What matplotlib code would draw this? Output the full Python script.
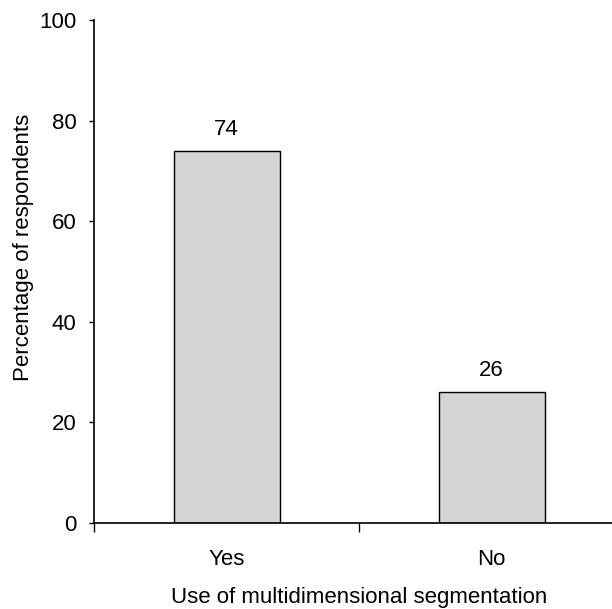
import matplotlib
matplotlib.use("Agg")
import matplotlib.pyplot as plt

plt.rcParams['font.family'] = ['Liberation Sans', 'DejaVu Sans']

categories = ["Yes", "No"]
percentages = [74, 26]
y_ticks = [0, 20, 40, 60, 80, 100]

fig = plt.figure(figsize=(6.12, 6.09), dpi=100)
# axes runs a little past the right edge of the figure
ax = fig.add_axes([94 / 612, 86 / 609, 530 / 612, 503 / 609])

x = list(range(len(categories)))
ax.bar(x, percentages, width=0.4, color="#d4d4d4", edgecolor="black", linewidth=1.0)

for xi, v in zip(x, percentages):
    ax.annotate(str(v), (xi, v), xytext=(0, 8), textcoords="offset points",
                ha="center", va="bottom", fontsize=16)

ax.set_xlim(-0.5, 1.5)
ax.set_ylim(0, 100)
ax.set_yticks(y_ticks)
ax.tick_params(axis="y", length=3.6, width=1.0, pad=9, labelsize=16)

# boundary ticks on the x axis, category names sit between them
ax.set_xticks([-0.5, 0.5, 1.5])
ax.set_xticklabels([])
ax.tick_params(axis="x", which="major", length=6.5, width=1.0)
ax.set_xticks(x, minor=True)
ax.set_xticklabels(categories, minor=True)
ax.tick_params(axis="x", which="minor", length=0, pad=19, labelsize=16)

ax.set_xlabel("Use of multidimensional segmentation", fontsize=16, labelpad=12)
ax.set_ylabel("Percentage of respondents", fontsize=16)
ax.yaxis.set_label_coords(-0.113, 0.547)

for side in ["top", "right"]:
    ax.spines[side].set_visible(False)
for side in ["left", "bottom"]:
    ax.spines[side].set_linewidth(1.2)

fig.savefig("out.png", dpi=100)
